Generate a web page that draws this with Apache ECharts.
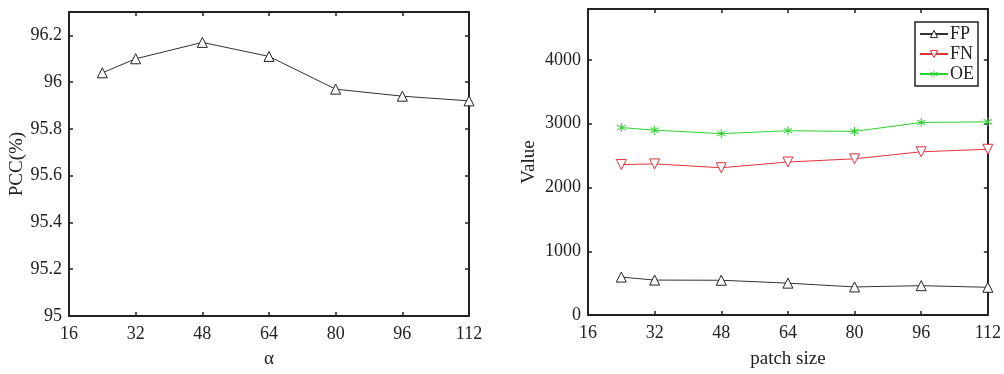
<!DOCTYPE html>
<html><head><meta charset="utf-8">
<script src="https://cdn.jsdelivr.net/npm/echarts@6/dist/echarts.min.js"></script>
<style>html,body{margin:0;padding:0;background:#fff}#c{width:1004px;height:374px}</style>
</head><body><div id="c"></div>
<script>
const xValues = [24, 32, 48, 64, 80, 96, 112];
const pccValues = [96.04, 96.10, 96.17, 96.11, 95.97, 95.94, 95.92];
const fpValues = [595, 548, 545, 500, 440, 460, 435];
const fnValues = [2360, 2370, 2310, 2400, 2450, 2560, 2600];
const oeValues = [2940, 2900, 2845, 2890, 2880, 3020, 3030];
const xTicks = [16, 32, 48, 64, 80, 96, 112];
const seriesNames = ['FP', 'FN', 'OE'];

const FONT = 'Liberation Serif';
const AX = '#222';
const RED = '#e2333b', GREEN = '#2ed12e';
const pairs = (xs, ys) => xs.map((x, i) => [x, ys[i]]);
const starPath = 'path://M9,0L11,0L11,7.6L17.6,3.8L18.6,5.5L12,9.3L12,10.7L18.6,14.5L17.6,16.2L11,12.4L11,20L9,20L9,12.4L2.4,16.2L1.4,14.5L8,10.7L8,9.3L1.4,5.5L2.4,3.8L9,7.6Z';

function xAx(gi, name, pos, gap) {
  const main = pos === 'bottom';
  return {
    type: 'value', gridIndex: gi, position: pos, min: 16, max: 112, interval: 16,
    name: main ? name : '', nameLocation: 'middle', nameGap: gap || 33,
    nameTextStyle: { fontFamily: FONT, fontSize: 19, color: '#222' },
    axisLine: { show: true, onZero: false, lineStyle: { color: AX, width: 2 } },
    axisTick: { show: true, inside: true, length: 4, lineStyle: { color: AX, width: 1.5 } },
    axisLabel: { show: main, fontFamily: FONT, fontSize: 18, color: '#222', margin: 9,
      formatter: v => String(v) },
    splitLine: { show: false }
  };
}
function yAx(gi, name, pos, min, max, interval, gap) {
  const main = pos === 'left';
  return {
    type: 'value', gridIndex: gi, position: pos, min: min, max: max, interval: interval,
    name: main ? name : '', nameLocation: 'middle', nameGap: gap,
    nameTextStyle: { fontFamily: FONT, fontSize: 19, color: '#222' },
    axisLine: { show: true, onZero: false, lineStyle: { color: AX, width: 2 } },
    axisTick: { show: true, inside: true, length: 4, lineStyle: { color: AX, width: 1.5 } },
    axisLabel: { show: main, showMaxLabel: false, fontFamily: FONT, fontSize: 18, color: '#222', margin: 7,
      formatter: v => String(Math.round(v * 10) / 10) },
    splitLine: { show: false }
  };
}

const chart = echarts.init(document.getElementById('c'), null, { renderer: 'canvas' });
chart.setOption({
  animation: false,
  backgroundColor: '#fff',
  grid: [
    { left: 69, right: 535, top: 12, bottom: 57 },
    { left: 588, right: 15, top: 9, bottom: 57 }
  ],
  xAxis: [
    xAx(0, 'α', 'bottom', 34), xAx(0, '', 'top'),
    xAx(1, 'patch size', 'bottom', 35), xAx(1, '', 'top')
  ],
  yAxis: [
    yAx(0, 'PCC(%)', 'left', 95, 96.3, 0.2, 41), yAx(0, '', 'right', 95, 96.3, 0.2, 0),
    yAx(1, 'Value', 'right', 0, 4800, 1000, 0), yAx(1, 'Value', 'left', 0, 4800, 1000, 49)
  ],
  legend: {
    orient: 'vertical', right: 26, top: 22, itemGap: 2, itemWidth: 28, itemHeight: 9,
    padding: [3, 4, 3, 4],
    borderColor: AX, borderWidth: 1.5, backgroundColor: '#fff',
    textStyle: { fontFamily: FONT, fontSize: 18, color: '#222', padding: [0, 0, 0, -3] },
    data: [
      { name: seriesNames[0], itemStyle: { color: '#fff', borderColor: '#222', borderWidth: 1 } },
      { name: seriesNames[1], itemStyle: { color: '#fff', borderColor: RED, borderWidth: 1 } },
      { name: seriesNames[2] }
    ]
  },
  series: [
    { type: 'line', xAxisIndex: 0, yAxisIndex: 0, data: pairs(xValues, pccValues),
      symbol: 'triangle', symbolSize: 10, lineStyle: { color: '#333', width: 1 },
      itemStyle: { color: '#fff', borderColor: '#222', borderWidth: 1 } },
    { name: 'FP', type: 'line', xAxisIndex: 2, yAxisIndex: 3, data: pairs(xValues, fpValues),
      symbol: 'triangle', symbolSize: 10, lineStyle: { color: '#333', width: 1 },
      itemStyle: { color: '#fff', borderColor: '#222', borderWidth: 1 } },
    { name: 'FN', type: 'line', xAxisIndex: 2, yAxisIndex: 3, data: pairs(xValues, fnValues),
      symbol: 'triangle', symbolRotate: 180, symbolSize: 10, lineStyle: { color: RED, width: 1 },
      itemStyle: { color: '#fff', borderColor: RED, borderWidth: 1 } },
    { name: 'OE', type: 'line', xAxisIndex: 2, yAxisIndex: 3, data: pairs(xValues, oeValues),
      symbol: starPath, symbolSize: 9, lineStyle: { color: GREEN, width: 1 },
      itemStyle: { color: GREEN, borderColor: GREEN, borderWidth: 0 } }
  ]
});
</script></body></html>
